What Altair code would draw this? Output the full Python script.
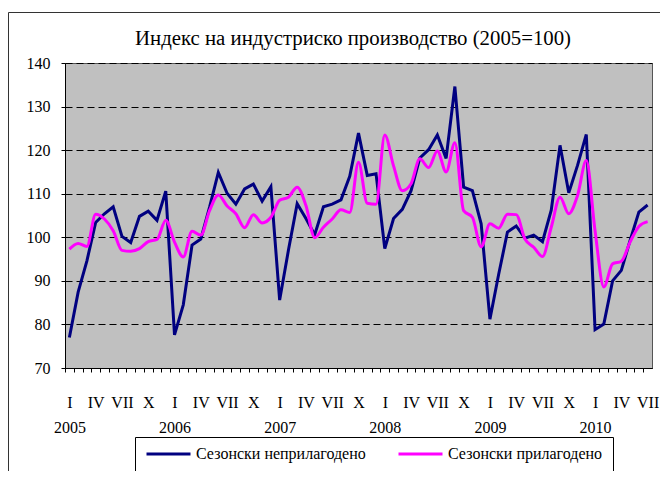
import json
import altair as alt
import pandas as pd

series_names = ["Сезонски неприлагодено", "Сезонски прилагодено"]
series_colors = ["#000080", "#FF00FF"]

unadjusted = [77.0, 87.4, 94.6, 103.4, 105.4, 107.0, 100.2, 98.8, 104.8, 106.0, 103.9, 110.6,
              77.6, 84.5, 98.2, 99.6, 106.9, 114.9, 110.1, 107.6, 111.1, 112.2, 108.3, 111.6,
              85.6, 97.0, 107.7, 104.3, 100.6, 107.0, 107.6, 108.6, 114.0, 123.9, 114.2, 114.6,
              97.4, 104.3, 106.4, 110.7, 118.2, 120.1, 123.5, 118.1, 134.6, 111.5, 110.7, 103.1,
              81.2, 91.5, 101.2, 102.6, 99.8, 100.5, 99.0, 106.2, 121.1, 110.2, 116.5, 123.6,
              78.8, 80.1, 90.0, 92.4, 99.3, 105.8, 107.4]

adjusted = [97.3, 98.6, 97.9, 105.3, 104.2, 101.5, 97.0, 96.8, 97.4, 99.0, 99.5, 103.9,
            98.9, 95.5, 101.4, 100.5, 106.1, 109.7, 107.2, 105.4, 102.2, 105.2, 103.3, 104.6,
            108.5, 109.2, 111.5, 107.3, 99.9, 102.3, 104.2, 106.3, 105.7, 117.2, 107.8, 107.6,
            123.5, 116.4, 110.7, 112.3, 118.0, 116.0, 119.8, 115.0, 121.7, 106.1, 104.6, 97.8,
            103.1, 102.1, 105.3, 105.2, 99.6, 97.7, 95.6, 102.3, 109.2, 105.4, 109.6, 117.6,
            101.5, 88.6, 93.9, 94.5, 98.9, 102.5, 103.6]

quarter_labels = ["I", "IV", "VII", "X"]
years = ["2005", "2006", "2007", "2008", "2009", "2010"]
y_ticks = [70, 80, 90, 100, 110, 120, 130, 140]

title_text = "Индекс на индустриско производство (2005=100)"

n = len(unadjusted)
month_idx = list(range(n))

labels = []
for i in month_idx:
    m = i % 12
    if m == 0:
        labels.append([quarter_labels[0], years[i // 12]])
    elif m % 3 == 0:
        labels.append(quarter_labels[m // 3])
    else:
        labels.append("")
label_expr = json.dumps(labels, ensure_ascii=False) + "[datum.value]"

df = pd.DataFrame({
    "idx": month_idx * 2,
    "value": unadjusted + adjusted,
    "series": [series_names[0]] * n + [series_names[1]] * n,
})

FONT = "Liberation Serif"
W = 587
H = 305
half_band = W / n / 2

x_enc = alt.X("idx:Q",
              scale=alt.Scale(domain=[-0.5, n - 0.5], nice=False, zero=False),
              axis=alt.Axis(values=month_idx, labelExpr=label_expr, title=None,
                            grid=False, tickSize=4, tickOffset=-half_band,
                            labelOffset=half_band,
                            labelPadding=22, labelLineHeight=25, labelOverlap=False,
                            labelBound=False, labelFlush=False, labelAngle=0,
                            domainColor="black", tickColor="black",
                            labelBaseline="top", labelFont=FONT, labelFontSize=16,
                            labelColor="black"))
y_enc = alt.Y("value:Q",
              scale=alt.Scale(domain=[70, 140], nice=False, zero=False),
              axis=alt.Axis(values=y_ticks, title=None, grid=True, gridColor="black",
                            gridDash=[7, 4], gridWidth=1, tickSize=4, labelPadding=11,
                            domainColor="black", tickColor="black",
                            labelFont=FONT, labelFontSize=16, labelColor="black"))
color_enc = alt.Color("series:N",
                      scale=alt.Scale(domain=series_names, range=series_colors),
                      sort=series_names,
                      legend=alt.Legend(orient="none", legendX=70, legendY=374,
                                        direction="horizontal", title=None,
                                        strokeColor="black", fillColor="white",
                                        padding=10, symbolType="stroke",
                                        symbolSize=1936, symbolStrokeWidth=3,
                                        clipHeight=14, labelFont=FONT,
                                        labelFontSize=16, labelColor="black",
                                        labelLimit=400,
                                        columnPadding=31, labelOffset=4))

base = alt.Chart(df)

line_unadj = base.transform_filter(
    alt.datum.series == series_names[0]
).mark_line(strokeWidth=3, interpolate="linear").encode(x=x_enc, y=y_enc, color=color_enc)

line_adj = base.transform_filter(
    alt.datum.series == series_names[1]
).mark_line(strokeWidth=3, interpolate="monotone").encode(x=x_enc, y=y_enc, color=color_enc)

frame_df = pd.DataFrame({"a": [0]})
frame_v = alt.Chart(frame_df).mark_rule(color="#333333", strokeWidth=1).encode(
    x=alt.value(-56.5), y=alt.value(-50.5), y2=alt.value(520))
frame_h = alt.Chart(frame_df).mark_rule(color="#333333", strokeWidth=1).encode(
    x=alt.value(-56.5), x2=alt.value(700), y=alt.value(-50.5))

title_mark = alt.Chart(frame_df).mark_text(
    font=FONT, fontSize=20.8, color="black", align="center", baseline="alphabetic"
).encode(x=alt.value(288), y=alt.value(-18), text=alt.value(title_text))

chart = alt.layer(line_unadj, line_adj, frame_v, frame_h, title_mark).properties(
    width=W, height=H, background="white",
    autosize=alt.AutoSizeParams(type="none"),
    padding={"left": 57, "top": 55, "right": 8, "bottom": 103},
).configure_view(
    fill="#C0C0C0", stroke="#555555", strokeWidth=1
).configure_axis(
    labelFont=FONT, labelFontSize=16, labelColor="black"
)

chart.save("out.html", embed_options={"renderer": "svg", "actions": False})
